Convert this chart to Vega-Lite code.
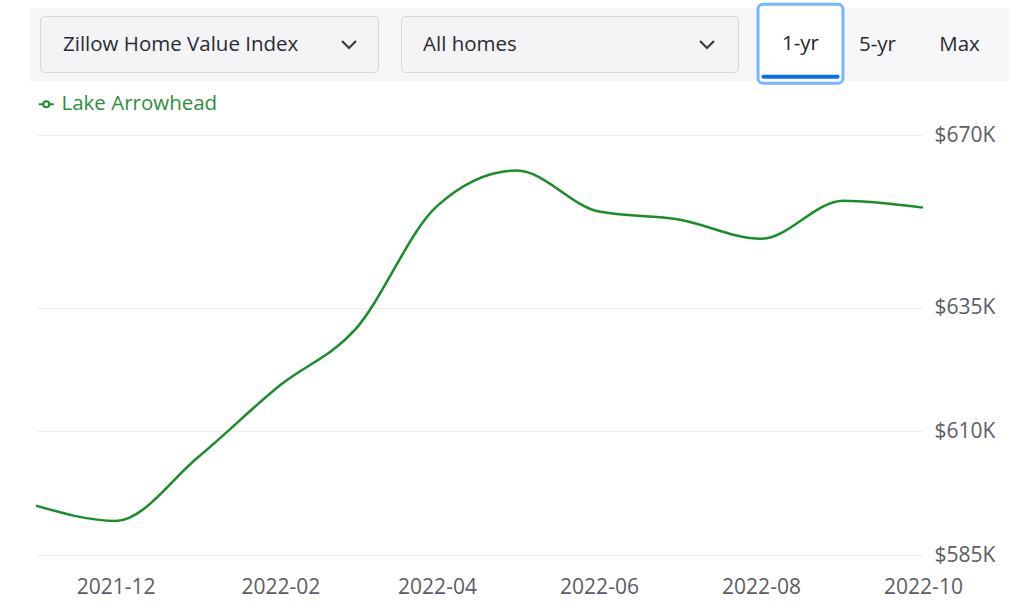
{
  "$schema": "https://vega.github.io/schema/vega-lite/v6.json",
  "background": "white",
  "padding": {"left": 30, "top": 2, "right": 0, "bottom": 14},
  "spacing": 9,
  "resolve": {"scale": {"color": "independent"}, "legend": {"color": "independent"}},
  "vconcat": [
    {
      "hconcat": [
        {"width": 2, "height": 73, "view": {"fill": "#f7f7fa"}, "data": {"values": [{"label": ""}]}, "mark": {"type": "text"}, "encoding": {"text": {"field": "label"}}},
        {
          "width": 355, "height": 73,
          "view": {"fill": "#f7f7fa"},
          "data": {"values": [{"label": "Zillow Home Value Index"}]},
          "layer": [
            {"mark": {"type": "rect", "fill": "#f4f4f7", "stroke": "#d6d6dd", "strokeWidth": 18, "cornerRadius": 13, "clip": true, "opacity": 1}, "encoding": {}},
            {"mark": {"type": "rect", "fill": null, "fillOpacity": 0, "stroke": "#f7f7fa", "strokeWidth": 16, "cornerRadius": 13, "clip": true, "opacity": 1}, "encoding": {}},
            {"mark": {"type": "text", "align": "left", "dx": -146.5, "fontSize": 20.5, "font": "Open Sans", "color": "#2a2a33"}, "encoding": {"text": {"field": "label"}}},
            {"mark": {"type": "point", "shape": "M-1,-0.5L0,0.5L1,-0.5", "filled": false, "color": "#3b3b45", "strokeWidth": 2.2, "size": 196, "xOffset": 139.5, "opacity": 1}, "encoding": {}}
          ]
        },
        {"width": 6, "height": 73, "view": {"fill": "#f7f7fa"}, "data": {"values": [{"label": ""}]}, "mark": {"type": "text"}, "encoding": {"text": {"field": "label"}}},
        {
          "width": 354, "height": 73,
          "view": {"fill": "#f7f7fa"},
          "data": {"values": [{"label": "All homes"}]},
          "layer": [
            {"mark": {"type": "rect", "fill": "#f4f4f7", "stroke": "#d6d6dd", "strokeWidth": 18, "cornerRadius": 13, "clip": true, "opacity": 1}, "encoding": {}},
            {"mark": {"type": "rect", "fill": null, "fillOpacity": 0, "stroke": "#f7f7fa", "strokeWidth": 16, "cornerRadius": 13, "clip": true, "opacity": 1}, "encoding": {}},
            {"mark": {"type": "text", "align": "left", "dx": -147, "fontSize": 20.5, "font": "Open Sans", "color": "#2a2a33"}, "encoding": {"text": {"field": "label"}}},
            {"mark": {"type": "point", "shape": "M-1,-0.5L0,0.5L1,-0.5", "filled": false, "color": "#3b3b45", "strokeWidth": 2.2, "size": 196, "xOffset": 137, "opacity": 1}, "encoding": {}}
          ]
        },
        {"width": 9, "height": 73, "view": {"fill": "#f7f7fa"}, "data": {"values": [{"label": ""}]}, "mark": {"type": "text"}, "encoding": {"text": {"field": "label"}}},
        {
          "width": 85, "height": 79,
          "view": {"fill": "#ffffff", "stroke": "#74b6ff", "strokeWidth": 3, "cornerRadius": 5},
          "data": {"values": [{"label": "1-yr"}]},
          "layer": [
            {"mark": {"type": "text", "fontSize": 20.5, "font": "Open Sans", "color": "#222228"}, "encoding": {"text": {"field": "label"}}},
            {"mark": {"type": "tick", "orient": "horizontal", "size": 78, "thickness": 4, "color": "#0a6cf0", "yOffset": 33, "opacity": 1, "cornerRadius": 2}, "encoding": {}}
          ]
        },
        {"width": 65, "height": 73, "view": {"fill": "#f7f7fa"}, "data": {"values": [{"label": "5-yr"}]}, "mark": {"type": "text", "fontSize": 20.5, "font": "Open Sans", "color": "#2a2a33"}, "encoding": {"text": {"field": "label"}}},
        {"width": 99, "height": 73, "view": {"fill": "#f7f7fa"}, "data": {"values": [{"label": "Max"}]}, "mark": {"type": "text", "fontSize": 20.5, "font": "Open Sans", "color": "#2a2a33"}, "encoding": {"text": {"field": "label"}}}
      ],
      "spacing": 0,
      "center": true
    },
    {
      "hconcat": [
        {"width": 1, "height": 10, "data": {"values": [{"label": ""}]}, "mark": {"type": "text"}, "encoding": {"text": {"field": "label"}}},
        {
          "width": 887,
          "height": 420,
          "data": {
            "values": [
              {"date": "2021-11-01", "value": 595000, "region": "Lake Arrowhead"},
              {"date": "2021-12-01", "value": 591900, "region": "Lake Arrowhead"},
              {"date": "2022-01-01", "value": 604800, "region": "Lake Arrowhead"},
              {"date": "2022-02-01", "value": 619400, "region": "Lake Arrowhead"},
              {"date": "2022-03-01", "value": 630500, "region": "Lake Arrowhead"},
              {"date": "2022-04-01", "value": 655600, "region": "Lake Arrowhead"},
              {"date": "2022-05-01", "value": 662800, "region": "Lake Arrowhead"},
              {"date": "2022-06-01", "value": 654500, "region": "Lake Arrowhead"},
              {"date": "2022-07-01", "value": 652900, "region": "Lake Arrowhead"},
              {"date": "2022-08-01", "value": 649000, "region": "Lake Arrowhead"},
              {"date": "2022-09-01", "value": 656700, "region": "Lake Arrowhead"},
              {"date": "2022-10-01", "value": 655300, "region": "Lake Arrowhead"}
            ]
          },
          "mark": {"type": "line", "interpolate": "monotone", "strokeWidth": 2.5},
          "encoding": {
            "x": {
              "field": "date", "type": "temporal",
              "scale": {"type": "utc", "domain": [{"year": 2021, "month": 11, "date": 1, "utc": true}, {"year": 2022, "month": 10, "date": 1, "utc": true}]},
              "axis": {
                "title": null, "domain": false, "ticks": false, "grid": false,
                "values": [
                  {"year": 2021, "month": 12, "date": 1, "utc": true},
                  {"year": 2022, "month": 2, "date": 1, "utc": true},
                  {"year": 2022, "month": 4, "date": 1, "utc": true},
                  {"year": 2022, "month": 6, "date": 1, "utc": true},
                  {"year": 2022, "month": 8, "date": 1, "utc": true},
                  {"year": 2022, "month": 10, "date": 1, "utc": true}
                ],
                "labelExpr": "utcFormat(datum.value, '%Y-%m')",
                "labelFont": "Open Sans", "labelFontSize": 21, "labelColor": "#5c5c66",
                "labelPadding": 21, "labelFlush": false, "labelOverlap": false, "labelBound": false
              }
            },
            "y": {
              "field": "value", "type": "quantitative",
              "scale": {"domain": [585000, 670000], "nice": false, "zero": false},
              "axis": {
                "orient": "right", "title": null, "domain": false, "ticks": false,
                "values": [585000, 610000, 635000, 670000],
                "labelExpr": "'$' + format(datum.value / 1000, 'd') + 'K'",
                "labelFont": "Open Sans", "labelFontSize": 21, "labelColor": "#5c5c66",
                "labelPadding": 11, "gridColor": "#eeeeee", "gridWidth": 1
              }
            },
            "color": {
              "field": "region", "type": "nominal",
              "scale": {"range": ["#1a8c2b"]},
              "legend": {
                "orient": "top", "title": null, "direction": "horizontal", "offset": 20,
                "symbolType": "M-1,0L-0.4,0M0.4,0L1,0M-0.4,0A0.4,0.4,0,1,1,0.4,0A0.4,0.4,0,1,1,-0.4,0",
                "symbolSize": 225, "symbolStrokeWidth": 2,
                "labelFont": "Open Sans", "labelFontSize": 20.5, "labelColor": "#2b8f3a", "labelOffset": 5,
                "encode": {"symbols": {"update": {"fill": {"value": "#ffffff"}, "stroke": {"value": "#1a8c2b"}, "strokeWidth": {"value": 2}, "opacity": {"value": 1}}}}
              }
            }
          }
        }
      ],
      "spacing": 0,
      "resolve": {"scale": {"color": "independent"}, "legend": {"color": "independent"}}
    }
  ],
  "config": {"view": {"stroke": null}}
}
